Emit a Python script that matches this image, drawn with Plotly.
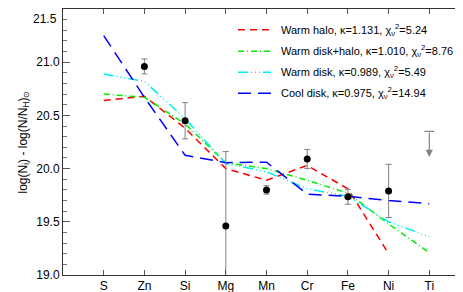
import plotly.graph_objects as go

elements = ["S", "Zn", "Si", "Mg", "Mn", "Cr", "Fe", "Ni", "Ti"]

# observed column densities (Zn..Ni), symmetric errors
obs_el = ["Zn", "Si", "Mg", "Mn", "Cr", "Fe", "Ni"]
obs_val = [20.96, 20.45, 19.46, 19.80, 20.09, 19.735, 19.79]
obs_err = [0.07, 0.17, 0.70, 0.04, 0.09, 0.07, 0.25]

# upper limit for Ti
lim_el = "Ti"
lim_top = 20.35
lim_bot = 20.11

warm_halo = [20.64, 20.68, 20.38, 20.00, 19.89, 20.03, 19.81, 19.20, None]
warm_disk_halo = [20.70, 20.67, 20.42, 20.056, 20.00, 19.89, 19.77, 19.48, 19.21]
warm_disk = [20.89, 20.82, 20.47, 20.047, 19.97, 19.81, 19.74, 19.50, 19.36]
cool_disk = [21.25, 20.67, 20.125, 20.056, 20.06, 19.76, 19.74, 19.70, 19.67]

names = [
    "Warm halo, κ=1.131, χ<sub>ν</sub><sup>2</sup>=5.24",
    "Warm disk+halo, κ=1.010, χ<sub>ν</sub><sup>2</sup>=8.76",
    "Warm disk, κ=0.989, χ<sub>ν</sub><sup>2</sup>=5.49",
    "Cool disk, κ=0.975, χ<sub>ν</sub><sup>2</sup>=14.94",
]
colors = ["#ff0000", "#00ee00", "#00eeee", "#0000ff"]
dashes = ["7px,5px", "6px,3px,1px,3px", "10px,3px,1px,3px,1px,3px,1px,3px", "13px,7px"]
models = [warm_halo, warm_disk_halo, warm_disk, cool_disk]

W, H = 463, 292
ML, MR, MT, MB = 55, 1, 1, 25
PW, PH = W - ML - MR, H - MT - MB

def px_x(p):
    return (p - ML) / PW

def px_y(p):
    return 1 - (p - MT) / PH

fig = go.Figure()
for nm, c, d, m in zip(names, colors, dashes, models):
    fig.add_trace(go.Scatter(x=elements, y=m, mode="lines", name=nm, showlegend=False,
                             line=dict(color=c, width=1.5, dash=d),
                             connectgaps=False))

fig.add_trace(go.Scatter(x=obs_el, y=obs_val, mode="markers", showlegend=False,
                         marker=dict(color="black", size=7),
                         error_y=dict(type="data", array=obs_err, color="#808080",
                                      thickness=1, width=3)))

fig.add_annotation(x=lim_el, y=lim_bot, ax=lim_el, ay=lim_top, axref="x", ayref="y",
                   xref="x", yref="y", showarrow=True, arrowhead=2, arrowsize=1.2,
                   arrowwidth=1.2, arrowcolor="#808080", text="")
fig.add_trace(go.Scatter(x=[lim_el], y=[lim_top], mode="markers", showlegend=False,
                         marker=dict(symbol="line-ew", size=7,
                                     line=dict(color="#808080", width=1.2))))

# manual legend
rows = [21.7, 43.3, 64.3, 85.3]
for nm, c, d, ry in zip(names, colors, dashes, rows):
    fig.add_shape(type="line", xref="paper", yref="paper",
                  x0=px_x(230), x1=px_x(263), y0=px_y(ry), y1=px_y(ry),
                  line=dict(color=c, width=1.5, dash=d))
    fig.add_annotation(xref="paper", yref="paper", x=px_x(271), y=px_y(ry),
                       xanchor="left", yanchor="middle", showarrow=False,
                       text=nm, font=dict(size=11))

# top tick label (sits just below the top axis)
fig.add_annotation(xref="paper", yref="paper", x=px_x(51), y=1, xanchor="right",
                   yanchor="top", yshift=-1, showarrow=False, text="21.5",
                   font=dict(size=12))

fig.update_layout(
    width=W, height=H,
    margin=dict(l=ML, r=MR, t=MT, b=MB),
    plot_bgcolor="white", paper_bgcolor="white",
    font=dict(family="Liberation Sans, Arial, sans-serif", size=12, color="black"),
    showlegend=False,
)
fig.update_xaxes(type="category", categoryorder="array", categoryarray=elements,
                 range=[-1, 9], showline=True, linecolor="#333", linewidth=1,
                 mirror="ticks", ticks="inside", ticklen=5, tickcolor="#555",
                 showgrid=False, zeroline=False, tickfont=dict(size=12),
                 automargin=False)
fig.update_yaxes(range=[19.0, 21.5], tickvals=[19.0, 19.5, 20.0, 20.5, 21.0, 21.5],
                 tickformat=".1f", automargin=False,
                 showline=True, linecolor="#333", linewidth=1, mirror="ticks",
                 ticks="inside", ticklen=7, tickcolor="#555",
                 minor=dict(dtick=0.1, ticks="inside", ticklen=4, tickcolor="#777"),
                 showgrid=False, zeroline=False, tickfont=dict(size=12),
                 title=dict(text="log(N<sub>i</sub>) - log(N/N<sub>H</sub>)<sub>⊙</sub>",
                            font=dict(size=12), standoff=6))

fig.write_html("out.html")
